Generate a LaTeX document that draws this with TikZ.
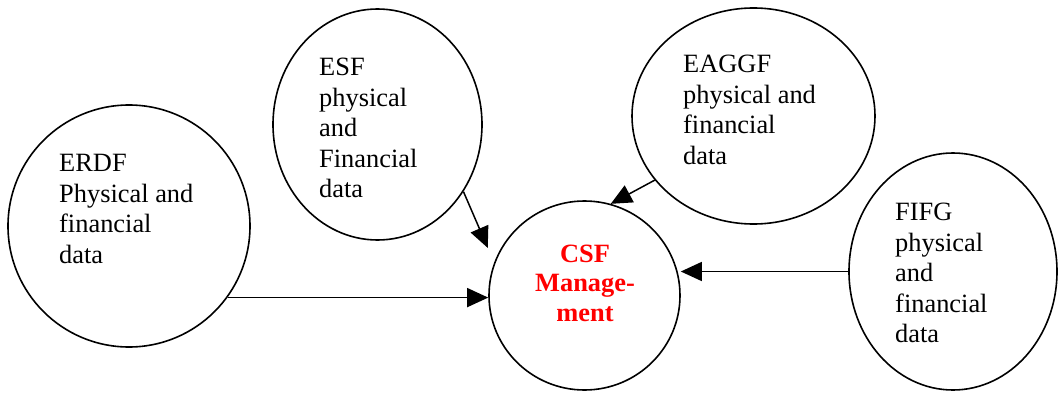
\documentclass[tikz,border=0pt]{standalone}
\usepackage{fontspec}
\setmainfont{Liberation Serif}
\usepackage{tikz}
\usetikzlibrary{arrows.meta}
\usetikzlibrary{shapes.geometric}
\tikzset{fund/.style = {draw, ellipse, line width = 1.6pt, inner sep = 0pt},
         fundtext/.style = {anchor = west, inner sep = 0pt, align = left,
                            font = \fontsize{26.4}{30.5}\selectfont},
         flow/.style = {-{Triangle[length = 21pt, width = 19pt]}, line width = 1.5pt}}

\begin{document}
\begin{tikzpicture}[x = 1pt, y = 1pt]
      \useasboundingbox (0, 0) rectangle (1058, 392);

      \node [fund, minimum width = 242pt, minimum height = 242pt] (erdf) at (129, 166) {};
      \node [fund, minimum width = 209pt, minimum height = 231pt] (esf) at (377.5, 267.5) {};
      \node [fund, minimum width = 243pt, minimum height = 216pt] (eaggf) at (753.5, 276) {};
      \node [fund, minimum width = 208pt, minimum height = 237pt] (fifg) at (953, 120.5) {};
      \node [fund, minimum width = 191pt, minimum height = 189pt] (csf) at (584.5, 96.5) {};

      \node [fundtext] (erdftext) at (59, 183) {ERDF\\Physical and\\financial\\data};
      \node [fundtext] (esftext) at (319, 264) {ESF\\physical\\and\\Financial\\data};
      \node [fundtext] (eaggftext) at (683, 282) {EAGGF\\physical and\\financial\\data};
      \node [fundtext] (fifgtext) at (895, 119) {FIFG\\physical\\and\\financial\\data};
      \node [fundtext, anchor = center, align = center, text = red,
             font = \bfseries\fontsize{26.4}{29.5}\selectfont] (csftext) at (585, 109) {CSF\\Manage-\\ment};

      \draw [flow] (erdf.-36) -- (erdf.-36 -| csf.west);
      \draw [flow, shorten > = 16pt] (esf.-38) -- (csf.160);
      \draw [flow] (eaggf.213) -- (csf.74);
      \draw [flow] (fifg.west) -- (fifg.west -| csf.east);
\end{tikzpicture}
\end{document}
